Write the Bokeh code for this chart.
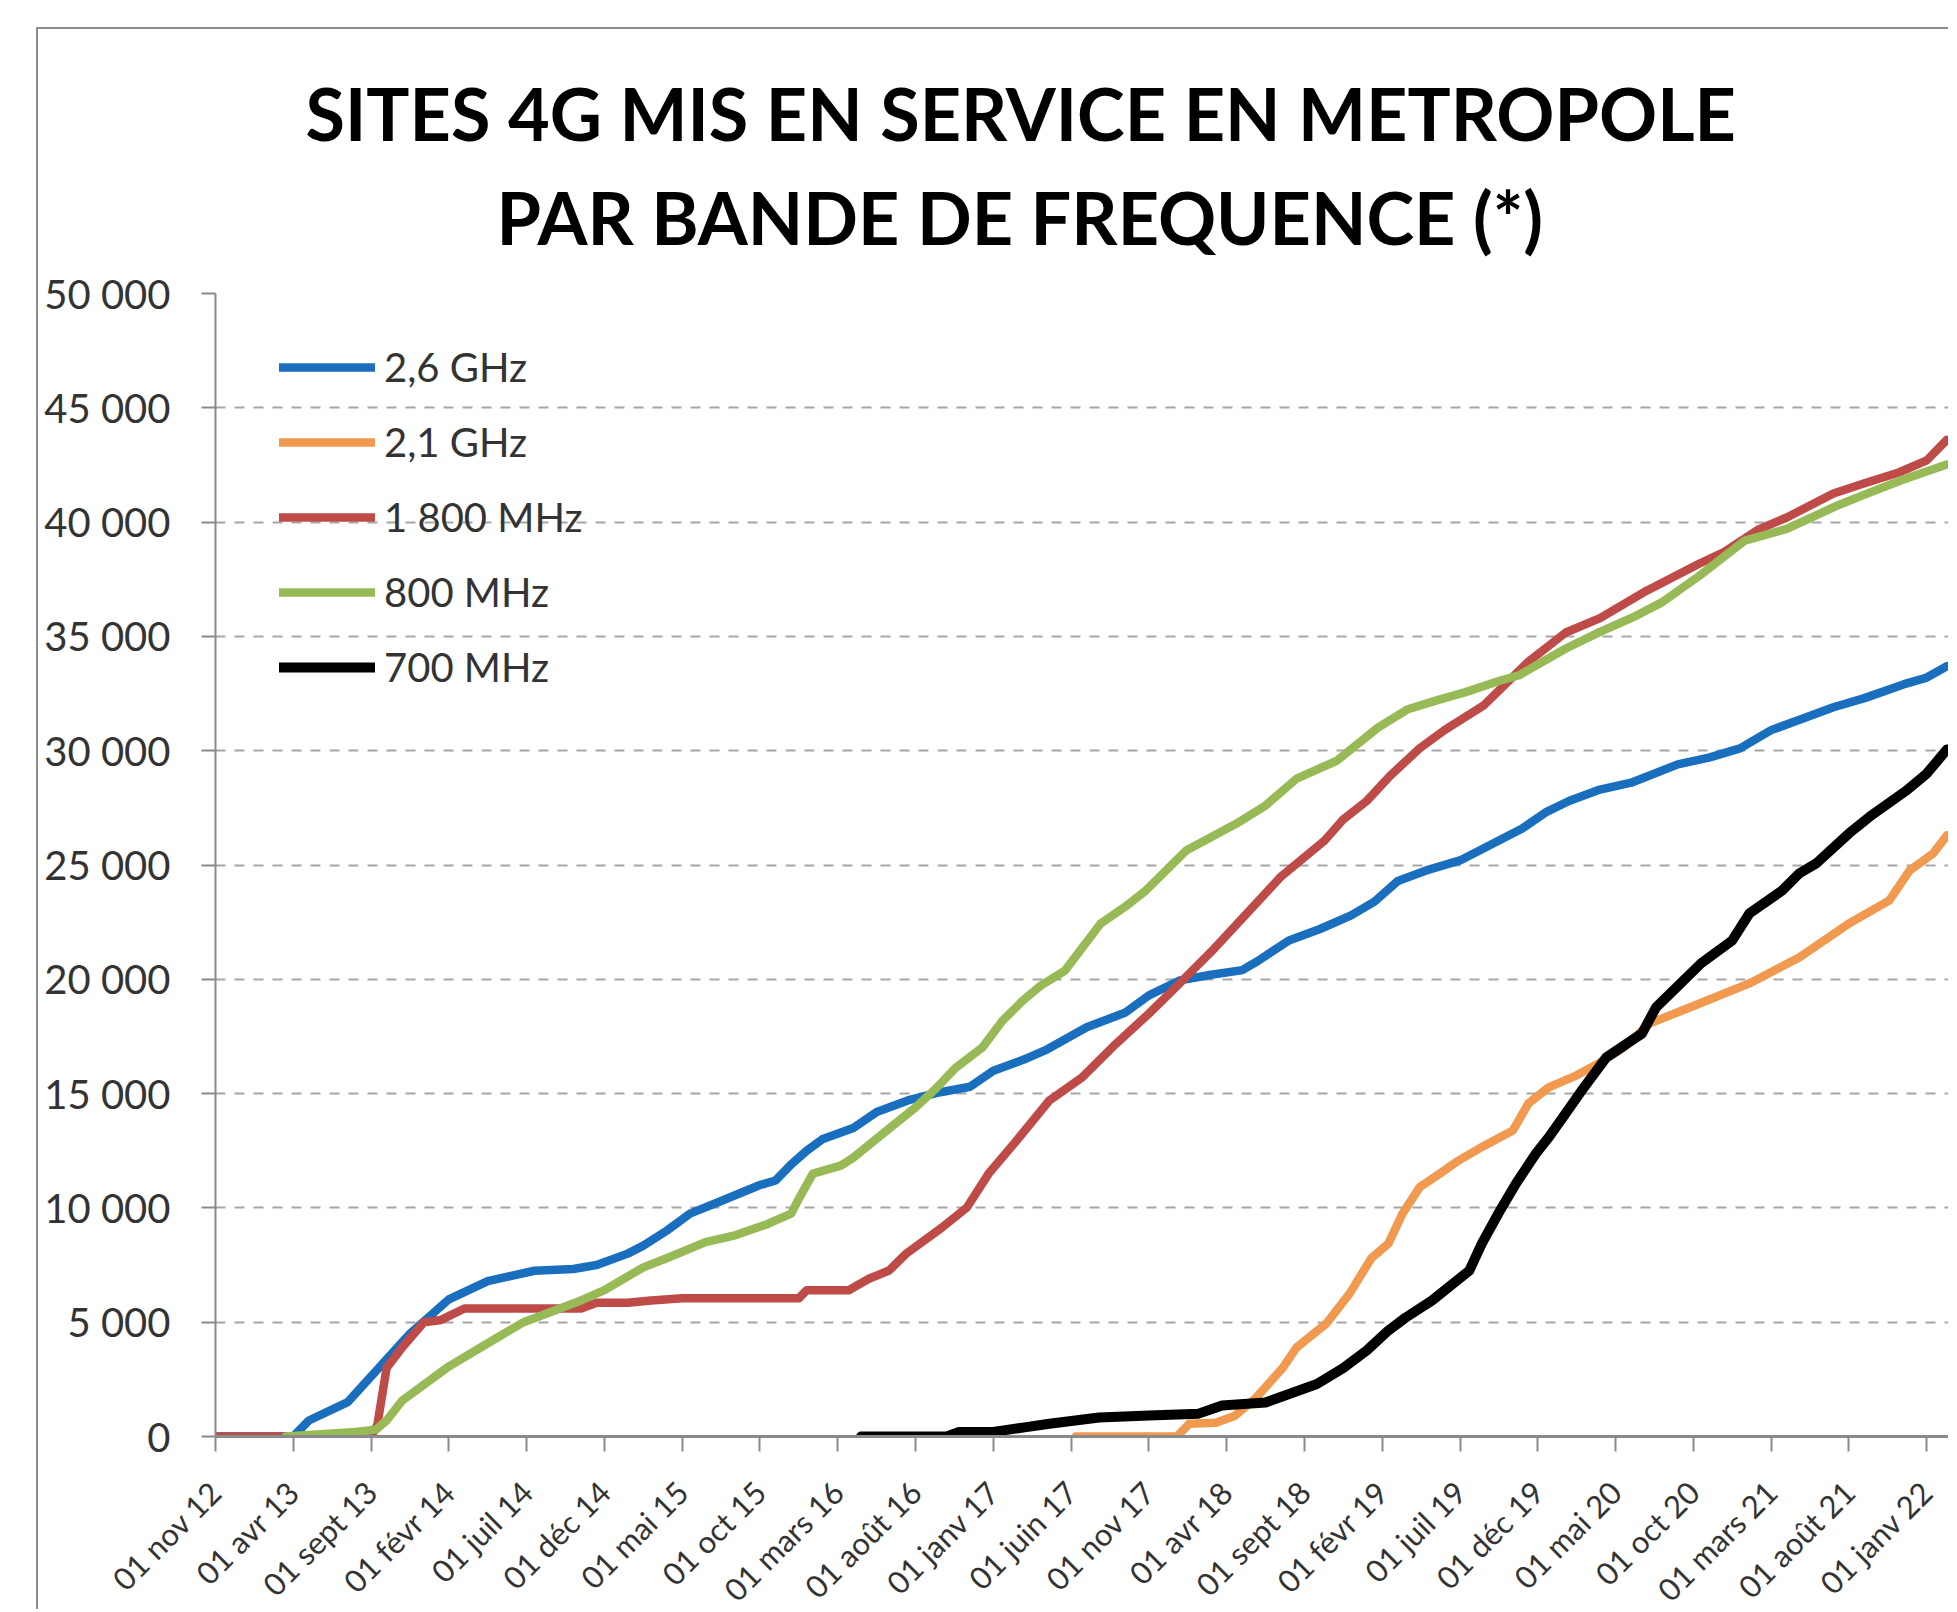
import math
from bokeh.plotting import figure
from bokeh.models import Range1d, FixedTicker, Legend, LegendItem, Title
from bokeh.embed import file_html
from bokeh.resources import INLINE

# ---------------- data (x = months since 01 nov 2012) ----------------
x_ticks = [0, 5, 10, 15, 20, 25, 30, 35, 40, 45, 50, 55, 60, 65, 70, 75, 80, 85, 90, 95, 100, 105, 110]
x_labels = ["01 nov 12", "01 avr 13", "01 sept 13", "01 févr 14", "01 juil 14", "01 déc 14",
            "01 mai 15", "01 oct 15", "01 mars 16", "01 août 16", "01 janv 17", "01 juin 17",
            "01 nov 17", "01 avr 18", "01 sept 18", "01 févr 19", "01 juil 19", "01 déc 19",
            "01 mai 20", "01 oct 20", "01 mars 21", "01 août 21", "01 janv 22"]
y_ticks = [0, 5000, 10000, 15000, 20000, 25000, 30000, 35000, 40000, 45000, 50000]
y_labels = ["0", "5 000", "10 000", "15 000", "20 000", "25 000", "30 000", "35 000", "40 000", "45 000", "50 000"]

m_26 = [0, 5, 6, 8.5, 10.5, 12.5, 15, 17.5, 20.5, 23, 24.5, 26.5, 27.5, 29, 30.5, 32.5, 35, 36, 37,
        38, 39, 41, 42.5, 44.5, 46.5, 48.5, 50, 52, 53.5, 56, 58.5, 60, 62, 64, 66, 67, 69, 71, 73,
        74.5, 76, 78, 80, 82, 84, 85.5, 87, 89, 91, 94, 96, 98, 100, 102, 104, 106, 108.5, 110, 111.3]
v_26 = [0, 0, 700, 1500, 3000, 4500, 6000, 6800, 7250, 7330, 7500, 8000, 8350, 9000, 9750, 10300,
        11000, 11200, 11900, 12500, 13000, 13500, 14200, 14700, 15050, 15300, 16000, 16500, 16950,
        17900, 18550, 19300, 19950, 20200, 20400, 20800, 21700, 22200, 22800, 23400, 24300, 24800,
        25200, 25900, 26600, 27300, 27800, 28300, 28600, 29400, 29700, 30100, 30900, 31400, 31900,
        32300, 32900, 33200, 33700]

m_21 = [55.3, 61.8, 62.6, 64.3, 65.5, 66.9, 68.6, 69.5, 71.4, 72.9, 74.3, 75.4, 76.3, 77.4, 78.7,
        79.9, 81.5, 83.4, 84.4, 85.7, 87.5, 88.9, 90.5, 92.2, 95.4, 98.6, 101.8, 105, 107.6, 108.9,
        110.4, 111.3]
v_21 = [0, 0, 560, 600, 900, 1700, 3000, 3900, 4940, 6250, 7800, 8440, 9750, 10900, 11500, 12070,
        12700, 13390, 14570, 15270, 15800, 16320, 17000, 18070, 18940, 19820, 20950, 22440, 23450,
        24760, 25500, 26300]

m_1800 = [0, 10, 10.4, 11, 12, 13.4, 14.5, 16, 23.5, 24.5, 26.5, 28, 30, 37.5, 38, 40, 40.7, 42,
          43.3, 44.4, 46.7, 48.3, 49.7, 51.5, 53.6, 55.7, 57.9, 60, 61.5, 64, 67, 68.5, 71.3, 72.5,
          74, 75.5, 77.4, 79, 81.5, 84.4, 86.8, 89, 92, 95.4, 97, 99.2, 101, 104, 106, 108.2, 110, 111.3]
v_1800 = [0, 0, 500, 3000, 3900, 5000, 5100, 5600, 5600, 5850, 5850, 5950, 6050, 6050, 6400, 6400,
          6400, 6900, 7260, 8000, 9140, 10020, 11500, 12950, 14700, 15700, 17190, 18500, 19500,
          21200, 23400, 24500, 26070, 27000, 27800, 28900, 30100, 30900, 31970, 33900, 35170, 35800,
          37000, 38190, 38700, 39680, 40200, 41250, 41700, 42170, 42700, 43600]

m_800 = [4.5, 9, 10.3, 11, 12, 14.9, 17.8, 19.8, 21, 23.5, 25, 27.5, 29, 31.5, 33.4, 35.5, 37, 37.5,
         38.4, 40.2, 41, 42.9, 45, 46.3, 47.6, 49.3, 50.6, 51.9, 53, 54.6, 56.9, 58.4, 59.8, 62.4,
         65.6, 67.5, 69.5, 72.1, 74.7, 76.6, 78.5, 80.3, 82.6, 83.8, 86.8, 89, 91.1, 93, 95.4, 98.3,
         101, 104.1, 106, 108.5, 111.3]
v_800 = [0, 200, 300, 700, 1570, 3020, 4200, 5000, 5300, 5950, 6400, 7400, 7800, 8500, 8800, 9300,
         9750, 10400, 11500, 11850, 12200, 13250, 14400, 15220, 16140, 17020, 18200, 19070, 19700,
         20380, 22440, 23140, 23880, 25630, 26800, 27600, 28780, 29570, 31000, 31800, 32200, 32550,
         33070, 33300, 34470, 35200, 35830, 36500, 37660, 39190, 39700, 40680, 41200, 41860, 42520]

m_700 = [41.5, 47, 47.8, 50, 52, 53.6, 56.8, 60, 63.2, 64.7, 67.5, 70.8, 72.5, 74, 75.4, 76.5, 78.2,
         80.6, 81.4, 82.5, 83.6, 84.9, 85.7, 86.6, 88, 89.4, 91.7, 92.6, 94, 95.5, 97.5, 98.6, 100.7,
         101.8, 102.9, 105, 106.5, 108.7, 110, 111.3]
v_700 = [0, 0, 200, 200, 400, 560, 830, 920, 1000, 1360, 1490, 2300, 3000, 3760, 4640, 5200, 5950,
         7260, 8440, 9800, 11070, 12400, 13080, 13950, 15300, 16580, 17630, 18770, 19700, 20700,
         21700, 22880, 23880, 24630, 25070, 26380, 27200, 28260, 29000, 30050]

series = [
    ("2,6 GHz", m_26, v_26, "#1A6EBE", 8.5),
    ("2,1 GHz", m_21, v_21, "#F0994F", 8.5),
    ("1 800 MHz", m_1800, v_1800, "#BE4B48", 8.5),
    ("800 MHz", m_800, v_800, "#98BA56", 8.5),
    ("700 MHz", m_700, v_700, "#000000", 10),
]

title_1 = "SITES 4G MIS EN SERVICE EN METROPOLE"
title_2 = "PAR BANDE DE FREQUENCE (*)"

# ---------------- figure ----------------
p = figure(frame_width=1733, frame_height=1143, output_backend="svg", toolbar_location=None,
           x_range=Range1d(0, 111.4), y_range=Range1d(0, 50000),
           min_border_left=177, min_border_right=0, min_border_top=264, min_border_bottom=175)
p.styles = {"position": "relative", "left": "36px", "top": "27px",
            "border-left": "2px solid #8d8d8d", "border-top": "2px solid #8d8d8d",
            "height": "1582px", "overflow": "hidden"}
p.outline_line_color = None
p.background_fill_color = "white"
p.border_fill_color = "white"

items = []
for name, xs, ys, col, lw in series:
    r = p.line(xs, ys, line_color=col, line_width=lw, line_join="round", line_cap="round")
    items.append(LegendItem(label=name, renderers=[r]))

# axes
p.xaxis.ticker = FixedTicker(ticks=x_ticks)
p.xaxis.major_label_overrides = dict(zip(x_ticks, x_labels))
p.xaxis.major_label_orientation = math.pi / 4
p.xaxis.major_label_text_font = "Lato"
p.xaxis.major_label_text_font_size = "31px"
p.xaxis.major_label_text_color = "#333333"
p.xaxis.axis_line_color = "#8a8a8a"
p.xaxis.axis_line_width = 3
p.xaxis.major_tick_line_color = "#8a8a8a"
p.xaxis.major_tick_line_width = 2
p.xaxis.major_tick_out = 15
p.xaxis.major_tick_in = 0
p.xaxis.minor_tick_line_color = None
p.xaxis.major_label_standoff = 35

p.yaxis.ticker = FixedTicker(ticks=y_ticks)
p.yaxis.major_label_overrides = dict(zip(y_ticks, y_labels))
p.yaxis.major_label_text_font = "Lato"
p.yaxis.major_label_text_font_size = "40px"
p.yaxis.major_label_text_color = "#333333"
p.yaxis.axis_line_color = "#8a8a8a"
p.yaxis.axis_line_width = 2
p.yaxis.major_tick_line_color = "#8a8a8a"
p.yaxis.major_tick_line_width = 2
p.yaxis.major_tick_out = 14
p.yaxis.major_tick_in = 0
p.yaxis.minor_tick_line_color = None
p.yaxis.major_label_standoff = 31

p.xgrid.visible = False
p.ygrid.grid_line_color = "#a6a6a6"
p.ygrid.grid_line_width = 2
p.ygrid.grid_line_dash = "10 9"

legend = Legend(items=items, location=(64, 745), orientation="vertical",
                glyph_width=96, glyph_height=48, label_height=48, spacing=27,
                padding=0, margin=0, label_standoff=9,
                border_line_color=None, background_fill_alpha=0,
                label_text_font="Lato", label_text_font_size="40px",
                label_text_color="#333333")
p.add_layout(legend)

# titles (first added sits nearest to the frame)
p.add_layout(Title(text=title_2, align="left", offset=281, standoff=67,
                   text_font="Lato", text_font_style="bold", text_font_size="72px",
                   text_color="#000000"), "above")
p.add_layout(Title(text=title_1, align="left", offset=90, standoff=-34,
                   text_font="Lato", text_font_style="bold", text_font_size="72px",
                   text_color="#000000"), "above")

open("out.html", "w").write(file_html(p, INLINE))
